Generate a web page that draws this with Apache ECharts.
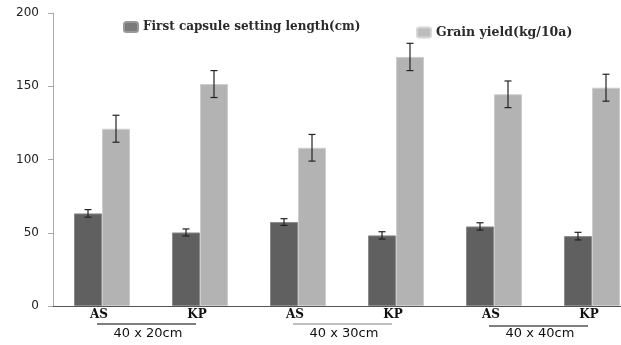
<!DOCTYPE html>
<html>
<head>
    <meta charset="utf-8">
    <script src="https://cdn.jsdelivr.net/npm/echarts@6/dist/echarts.min.js"></script>
    <style>
        html, body { margin: 0; padding: 0; background: #ffffff; }
        #chart { width: 621px; height: 345px; }
    </style>
</head>
<body>
<div id="chart"></div>
<script>
    // categories
    var cultivars = ['AS', 'KP', 'AS', 'KP', 'AS', 'KP'];
    var spacings = ['40 x 20cm', '40 x 30cm', '40 x 40cm'];
    var yTicks = [0, 50, 100, 150, 200];

    // series values
    var capsuleLength = [63.2, 50.2, 57.3, 48.2, 54.3, 47.7];
    var capsuleErr = [2.6, 2.4, 2.3, 2.5, 2.5, 2.6];
    var grainYield = [121, 151.5, 108, 170, 144.5, 149];
    var grainErr = [9.2, 9.2, 9.1, 9.3, 9.1, 9.2];

    // which cultivar indexes each spacing group spans
    var groupFrom = [0, 2, 4];
    var groupTo = [1, 3, 5];

    var serifFont = '"DejaVu Serif", serif';
    var sansFont = '"DejaVu Sans", sans-serif';
    var barW = 28;

    var chart = echarts.init(document.getElementById('chart'));

    function errorBars(values, errs) {
        return values.map(function (v, i) { return [i, v, errs[i]]; });
    }

    function renderErr(shift) {
        return function (params, api) {
            var i = api.value(0), v = api.value(1), e = api.value(2);
            var hi = api.coord([i, v + e]);
            var lo = api.coord([i, v - e]);
            var x = hi[0] + shift;
            var style = { stroke: '#222', lineWidth: 1.2 };
            return {
                type: 'group',
                children: [
                    { type: 'line', shape: { x1: x, y1: hi[1], x2: x, y2: lo[1] }, style: style },
                    { type: 'line', shape: { x1: x - 3.5, y1: hi[1], x2: x + 3.5, y2: hi[1] }, style: style },
                    { type: 'line', shape: { x1: x - 3.5, y1: lo[1], x2: x + 3.5, y2: lo[1] }, style: style }
                ]
            };
        };
    }

    var groupLineColors = ['#555555', '#aaaaaa', '#555555'];

    var option = {
        animation: false,
        backgroundColor: '#ffffff',
        grid: { left: 53, right: -20, top: 13, bottom: 39, outerBoundsMode: 'none' },
        legend: [
            {
                data: [{ name: 'First capsule setting length(cm)', itemStyle: { color: '#7a7a7a', borderColor: '#999' } }],
                left: 123, top: 21, padding: 0,
                itemWidth: 14, itemHeight: 10,
                textStyle: { fontFamily: serifFont, fontWeight: 'bold', fontSize: 12, color: '#2a2a2a' }
            },
            {
                data: [{ name: 'Grain yield(kg/10a)', itemStyle: { color: '#bdbdbd', borderColor: '#d5d5d5' } }],
                left: 416, top: 26, padding: 0,
                itemWidth: 14, itemHeight: 10,
                textStyle: { fontFamily: serifFont, fontWeight: 'bold', fontSize: 12.5, color: '#2a2a2a' }
            }
        ],
        xAxis: [
            {
                type: 'category',
                data: cultivars,
                axisLine: { lineStyle: { color: '#555555', width: 1.2 } },
                axisTick: { show: false },
                axisLabel: {
                    margin: 3,
                    padding: [0, 6, 0, 0],
                    fontFamily: serifFont, fontWeight: 'bold', fontSize: 12, color: '#111'
                }
            },
            {
                type: 'category',
                data: spacings,
                position: 'bottom',
                axisLine: { show: false },
                axisTick: { show: false },
                axisLabel: {
                    margin: 21,
                    padding: [0, 6, 0, 0],
                    fontFamily: sansFont, fontSize: 13, color: '#111'
                }
            }
        ],
        yAxis: {
            type: 'value',
            min: yTicks[0],
            max: yTicks[yTicks.length - 1],
            interval: 50,
            axisLine: { show: true, lineStyle: { color: '#aaaaaa' } },
            axisTick: { show: true, length: 5, lineStyle: { color: '#aaaaaa' } },
            splitLine: { show: false },
            axisLabel: { margin: 14, fontFamily: sansFont, fontSize: 12, color: '#222' }
        },
        series: [
            {
                name: 'First capsule setting length(cm)',
                type: 'bar',
                data: capsuleLength,
                barWidth: barW,
                barGap: '0%',
                itemStyle: { color: '#606060', borderColor: '#8a8a8a', borderWidth: 1 }
            },
            {
                name: 'Grain yield(kg/10a)',
                type: 'bar',
                data: grainYield,
                barWidth: barW,
                barGap: '0%',
                itemStyle: { color: '#b3b3b3', borderColor: '#cdcdcd', borderWidth: 1 }
            },
            {
                type: 'custom',
                data: errorBars(capsuleLength, capsuleErr),
                renderItem: renderErr(-barW / 2),
                z: 5, silent: true
            },
            {
                type: 'custom',
                data: errorBars(grainYield, grainErr),
                renderItem: renderErr(barW / 2),
                z: 5, silent: true
            },
            {
                // lines under each spacing group
                type: 'custom',
                data: groupFrom.map(function (f, i) { return [f, groupTo[i]]; }),
                renderItem: function (params, api) {
                    var a = api.coord([api.value(0), 0]);
                    var b = api.coord([api.value(1), 0]);
                    var y = a[1] + (params.dataIndex === 2 ? 20 : 18);
                    return {
                        type: 'line',
                        shape: { x1: a[0] - 5, y1: y, x2: b[0] - 4, y2: y },
                        style: { stroke: groupLineColors[params.dataIndex], lineWidth: 1.3 }
                    };
                },
                silent: true
            }
        ]
    };
    chart.setOption(option);
</script>
</body>
</html>
